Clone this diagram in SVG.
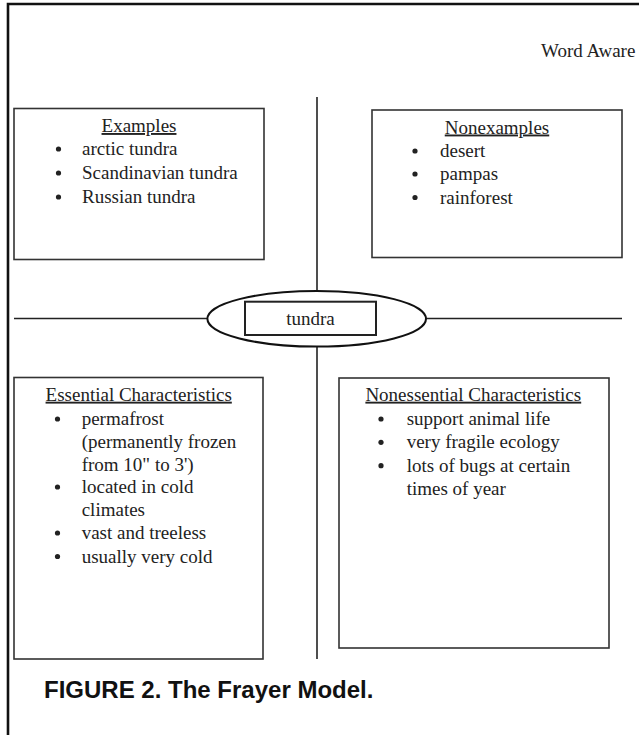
<svg xmlns="http://www.w3.org/2000/svg" width="639" height="735" viewBox="0 0 639 735">
<style>
.box{fill:#fff;stroke:#333;stroke-width:1.6}
.ln{fill:none;stroke:#222;stroke-width:1.6}
.t{font-family:"Liberation Serif","Times New Roman",serif;font-size:19px;fill:#222}
.h{text-anchor:middle;text-decoration:underline}
.b{fill:#222}
.cap{font-family:"Liberation Sans",Arial,sans-serif;font-weight:bold;font-size:24px;fill:#111}
</style>
<rect width="639" height="735" fill="#fff"/>
<path d="M8,735 V4 H639" fill="none" stroke="#111" stroke-width="2.6"/>
<text class="t" x="541" y="57">Word Aware</text>
<g id="connectors">
<line class="ln" x1="317" y1="97" x2="317" y2="291"/>
<line class="ln" x1="317" y1="347" x2="317" y2="659"/>
<line class="ln" x1="14" y1="318.5" x2="207.5" y2="318.5"/>
<line class="ln" x1="426" y1="318.5" x2="622" y2="318.5"/>
</g>
<g id="examples">
<rect class="box" x="14" y="108.5" width="250" height="151"/>
<text class="t h" x="139" y="132">Examples</text>
<circle class="b" cx="58.5" cy="149" r="2.6"/>
<text class="t" x="82" y="155">arctic tundra</text>
<circle class="b" cx="58.5" cy="173" r="2.6"/>
<text class="t" x="82" y="179">Scandinavian tundra</text>
<circle class="b" cx="58.5" cy="197" r="2.6"/>
<text class="t" x="82" y="203">Russian tundra</text>
</g>
<g id="nonexamples">
<rect class="box" x="372" y="110" width="250" height="147.5"/>
<text class="t h" x="497" y="133.5">Nonexamples</text>
<circle class="b" cx="415" cy="151" r="2.6"/>
<text class="t" x="440" y="157">desert</text>
<circle class="b" cx="415" cy="174" r="2.6"/>
<text class="t" x="440" y="180">pampas</text>
<circle class="b" cx="415" cy="197.5" r="2.6"/>
<text class="t" x="440" y="203.5">rainforest</text>
</g>
<g id="tundra">
<ellipse cx="316.7" cy="318.8" rx="109.3" ry="27.8" fill="#fff" stroke="#111" stroke-width="2"/>
<rect x="245" y="301.7" width="131" height="33.3" fill="#fff" stroke="#222" stroke-width="2"/>
<text class="t" x="310.5" y="325" text-anchor="middle">tundra</text>
</g>
<g id="essential">
<rect class="box" x="14" y="377.5" width="249" height="281.5"/>
<text class="t h" x="138.7" y="400.7">Essential Characteristics</text>
<circle class="b" cx="57.5" cy="419" r="2.6"/>
<text class="t" x="81.7" y="425">permafrost</text>
<text class="t" x="81.7" y="447.5">(permanently frozen</text>
<text class="t" x="81.7" y="470.5">from 10" to 3')</text>
<circle class="b" cx="57.5" cy="487" r="2.6"/>
<text class="t" x="81.7" y="493">located in cold</text>
<text class="t" x="81.7" y="516">climates</text>
<circle class="b" cx="57.5" cy="533" r="2.6"/>
<text class="t" x="81.7" y="539">vast and treeless</text>
<circle class="b" cx="57.5" cy="556.5" r="2.6"/>
<text class="t" x="81.7" y="562.5">usually very cold</text>
</g>
<g id="nonessential">
<rect class="box" x="339" y="378" width="270" height="270"/>
<text class="t h" x="473.3" y="400.7">Nonessential Characteristics</text>
<circle class="b" cx="381" cy="419" r="2.6"/>
<text class="t" x="406.7" y="425">support animal life</text>
<circle class="b" cx="381" cy="442.3" r="2.6"/>
<text class="t" x="406.7" y="448.3">very fragile ecology</text>
<circle class="b" cx="381" cy="465.7" r="2.6"/>
<text class="t" x="406.7" y="471.7">lots of bugs at certain</text>
<text class="t" x="406.7" y="494.5">times of year</text>
</g>
<text class="cap" x="44" y="698">FIGURE 2. The Frayer Model.</text>
</svg>
